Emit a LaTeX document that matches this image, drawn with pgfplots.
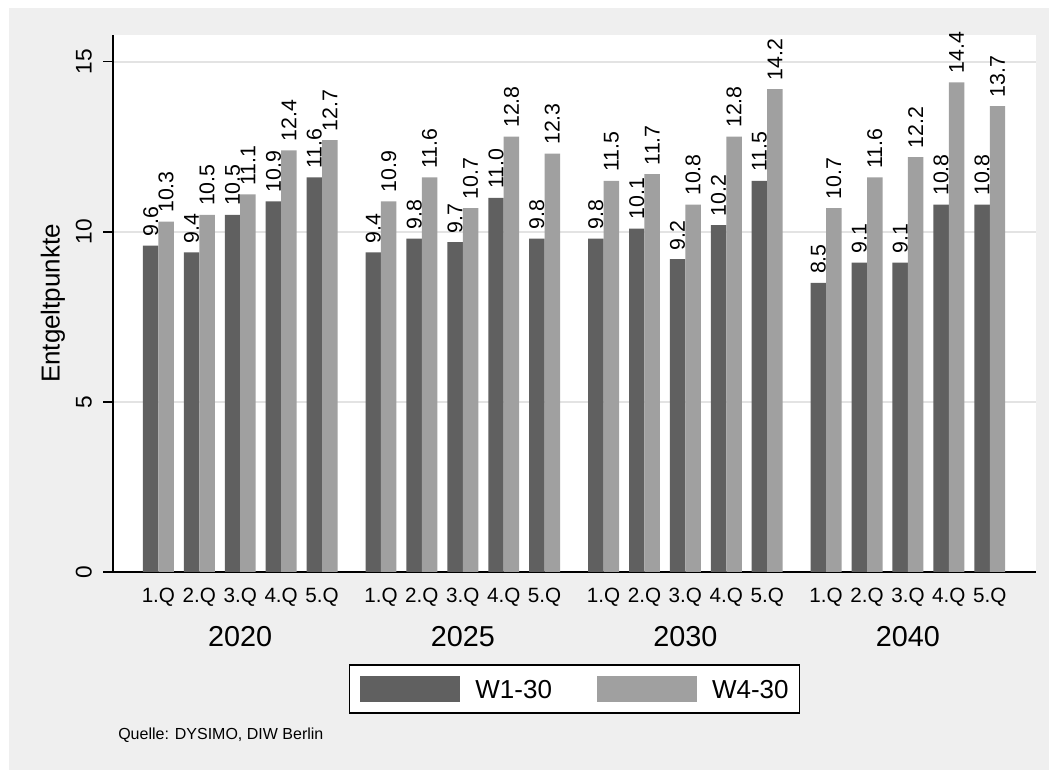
\documentclass[border=0pt]{standalone}
\usepackage{pgfplots}
\pgfplotsset{compat=1.18}
\usepackage{fontspec}
\setmainfont{Liberation Sans}
\definecolor{bggray}{HTML}{EFEFEF}
\definecolor{darkbar}{HTML}{606060}
\definecolor{lightbar}{HTML}{A0A0A0}
\definecolor{gridgray}{HTML}{E3E3E3}
\begin{document}
\begin{tikzpicture}[x=0.75pt,y=0.75pt]
\useasboundingbox (0,0) rectangle (1049,770);
\fill[white] (0,0) rectangle (1049,770);
\fill[bggray] (9,0) rectangle (1049,762);
\begin{axis}[
  at={(84.75pt,148.5pt)}, anchor=south west,
  scale only axis, width=692.25pt, height=402.75pt,
  xmin=-1.11, xmax=21.45, ymin=0, ymax=15.79,
  axis background/.style={fill=white},
  axis x line*=bottom, axis y line*=left,
  axis line style={black, line width=0.9pt},
  ybar=0pt, bar width=11.6pt,
  ytick={0,5,10,15},
  ymajorgrids, grid style={gridgray, line width=1pt},
  ytick style={black, line width=0.9pt},
  major tick length=7.5pt,
  ytick align=outside,
  xtick style={draw=none},
  /pgf/number format/assume math mode=true,
  yticklabel style={rotate=90, anchor=south, inner xsep=0pt, inner ysep=8.25pt, font=\fontsize{17}{19}\selectfont},
  xtick={0,1,2,3,4, 5.44,6.44,7.44,8.44,9.44, 10.88,11.88,12.88,13.88,14.88, 16.32,17.32,18.32,19.32,20.32},
  xticklabels={1.Q,2.Q,3.Q,4.Q,5.Q,1.Q,2.Q,3.Q,4.Q,5.Q,1.Q,2.Q,3.Q,4.Q,5.Q,1.Q,2.Q,3.Q,4.Q,5.Q},
  xticklabel style={anchor=north, inner sep=0pt, yshift=-4.2pt, font=\fontsize{15.5}{18}\selectfont},
  extra x ticks={2,7.44,12.88,18.32},
  extra x tick labels={2020,2025,2030,2040},
  extra x tick style={xticklabel style={yshift=-29.2pt, font=\fontsize{21.6}{25}\selectfont}},
  ylabel={Entgeltpunkte},
  ylabel style={at={(axis description cs:-0.065,0.5)}, anchor=center, font=\fontsize{19.5}{22}\selectfont},
  nodes near coords,
  nodes near coords style={/pgf/number format/fixed, /pgf/number format/fixed zerofill, /pgf/number format/precision=1, /pgf/number format/assume math mode=true,
     rotate=90, anchor=west, inner xsep=6.5pt, inner ysep=0pt, font=\fontsize{16}{18}\selectfont, black},
  legend columns=2,
  legend image code/.code={\fill[#1] (0pt,-10.1pt) rectangle (75pt,10.1pt);},
  legend style={at={(axis description cs:0.5,-0.2179)}, anchor=center, draw=black, line width=0.9pt, fill=white,
    font=\fontsize{19.5}{23}\selectfont, inner xsep=8.25pt, inner ysep=7.9pt,
    nodes={inner sep=0pt, text depth=0pt},
    /tikz/every odd column/.append style={column sep=11.25pt},
    /tikz/every even column/.append style={column sep=33.75pt}},
  clip=false,
]
\addplot[fill=darkbar, draw=none] coordinates {
(0,9.6) (1,9.4) (2,10.5) (3,10.9) (4,11.6)
(5.44,9.4) (6.44,9.8) (7.44,9.7) (8.44,11.0) (9.44,9.8)
(10.88,9.8) (11.88,10.1) (12.88,9.2) (13.88,10.2) (14.88,11.5)
(16.32,8.5) (17.32,9.1) (18.32,9.1) (19.32,10.8) (20.32,10.8)};
\addlegendentry{W1-30}
\addplot[fill=lightbar, draw=none] coordinates {
(0,10.3) (1,10.5) (2,11.1) (3,12.4) (4,12.7)
(5.44,10.9) (6.44,11.6) (7.44,10.7) (8.44,12.8) (9.44,12.3)
(10.88,11.5) (11.88,11.7) (12.88,10.8) (13.88,12.8) (14.88,14.2)
(16.32,10.7) (17.32,11.6) (18.32,12.2) (19.32,14.4) (20.32,13.7)};
\addlegendentry{W4-30}
\end{axis}
\node[anchor=base west, inner sep=0pt, font=\fontsize{12}{14}\selectfont] at (118,30) {Quelle: DYSIMO, DIW Berlin};
\end{tikzpicture}
\end{document}
